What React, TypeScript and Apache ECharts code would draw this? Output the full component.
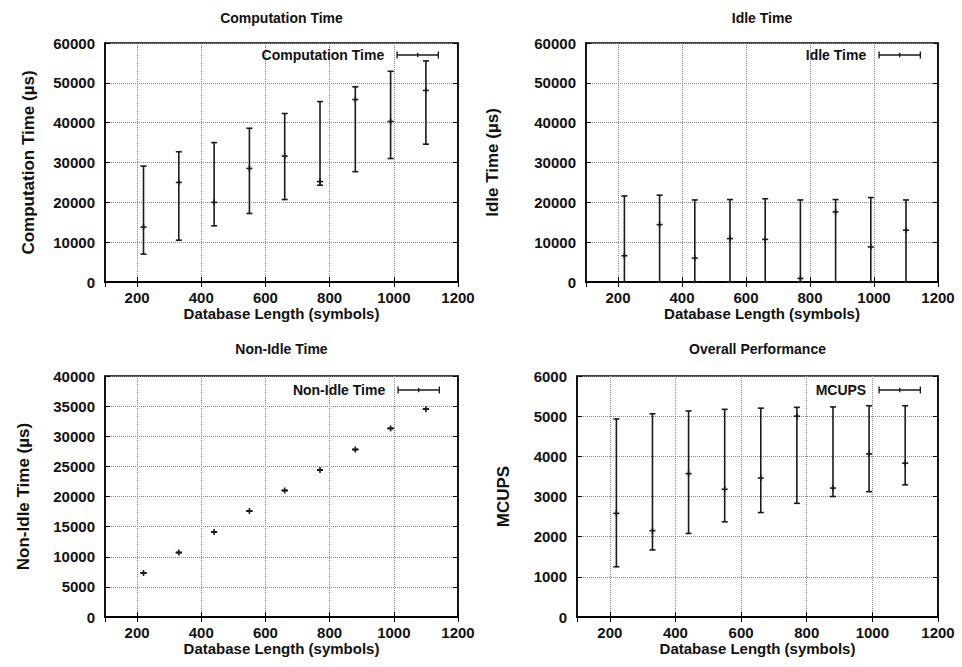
import React, { useEffect, useRef } from "react";
import * as echarts from "echarts";

const lengths = [220, 330, 440, 550, 660, 770, 880, 990, 1100];

const compLow = [7000, 10500, 14100, 17200, 20700, 24300, 27700, 31000, 34600];
const compMid = [13800, 25000, 20000, 28500, 31600, 25200, 45800, 40300, 48100];
const compHigh = [29100, 32700, 35000, 38600, 42300, 45300, 49000, 52900, 55500];

const idleLow = [0, 0, 0, 0, 0, 0, 0, 0, 0];
const idleMid = [6600, 14400, 6000, 10900, 10700, 900, 17600, 8800, 13000];
const idleHigh = [21600, 21800, 20600, 20700, 20900, 20600, 20700, 21200, 20600];

const nonIdleMid = [7300, 10700, 14100, 17600, 21000, 24400, 27800, 31300, 34500];

const mcupsLow = [1250, 1670, 2080, 2370, 2600, 2830, 3000, 3120, 3290];
const mcupsMid = [2580, 2150, 3570, 3180, 3460, 5000, 3210, 4060, 3830];
const mcupsHigh = [4930, 5060, 5130, 5170, 5200, 5220, 5230, 5260, 5260];

const xTickMin = 100;
const xTickMax = 1200;

const FONT = "Liberation Sans, Arial, Helvetica, sans-serif";
const INK = "#111";
const ICON = "path://M0,3h45v1.4h-45z M0,0h1.4v7.4h-1.4z M43.6,0h1.4v7.4h-1.4z M21.8,1.2h1.4v5h-1.4z";

const panels = [
  { title: "Computation Time", yName: "Computation Time (µs)", series: "Computation Time", low: compLow, mid: compMid, high: compHigh, yMax: 60000, yInt: 10000, grid: { left: 105, top: 43, width: 353, height: 239 }, nameGap: 68, legendRight: 523, legendTop: 48 },
  { title: "Idle Time", yName: "Idle Time (µs)", series: "Idle Time", low: idleLow, mid: idleMid, high: idleHigh, yMax: 60000, yInt: 10000, grid: { left: 586, top: 43, width: 352, height: 239 }, nameGap: 85, legendRight: 41, legendTop: 48 },
  { title: "Non-Idle Time", yName: "Non-Idle Time (µs)", series: "Non-Idle Time", low: nonIdleMid, mid: nonIdleMid, high: nonIdleMid, yMax: 40000, yInt: 5000, grid: { left: 105, top: 376, width: 353, height: 241 }, nameGap: 73, legendRight: 522, legendTop: 383 },
  { title: "Overall Performance", yName: "MCUPS", series: "MCUPS", low: mcupsLow, mid: mcupsMid, high: mcupsHigh, yMax: 6000, yInt: 1000, grid: { left: 577, top: 376, width: 361, height: 241 }, nameGap: 65, legendRight: 41, legendTop: 383 },
];

function renderErrorBar(params: any, api: any) {
  const x = api.value(0);
  const lo = api.value(1);
  const mid = api.value(2);
  const hi = api.value(3);
  const pLo = api.coord([x, lo]);
  const pHi = api.coord([x, hi]);
  const pMid = api.coord([x, mid]);
  const c = 3;
  const style = { stroke: "#1a1a1a", lineWidth: 1.6 };
  const ln = (x1: number, y1: number, x2: number, y2: number) => ({ type: "line", shape: { x1, y1, x2, y2 }, style });
  return {
    type: "group",
    children: [
      ln(pLo[0], pLo[1], pHi[0], pHi[1]),
      ln(pLo[0] - c, pLo[1], pLo[0] + c, pLo[1]),
      ln(pHi[0] - c, pHi[1], pHi[0] + c, pHi[1]),
      ln(pMid[0] - c, pMid[1], pMid[0] + c, pMid[1]),
      ln(pMid[0], pMid[1] - c, pMid[0], pMid[1] + c),
    ],
  };
}

const plain = (v: number) => String(v);

export default function App() {
  const ref = useRef<HTMLDivElement>(null);
  useEffect(() => {
    if (!ref.current) return;
    const chart = echarts.init(ref.current, null, { renderer: "svg" });
    const tickStyle = { fontFamily: FONT, fontSize: 15, fontWeight: "bold" as const, color: INK };
    const grids = panels.map((p) => ({ ...p.grid, show: true, borderColor: "#000", borderWidth: 1.5, backgroundColor: "transparent" }));
    const xAxes: any[] = [];
    const yAxes: any[] = [];
    panels.forEach((p, i) => {
      xAxes.push({
        type: "value", gridIndex: i, min: xTickMin, max: xTickMax, splitNumber: 5, position: "bottom",
        name: "Database Length (symbols)", nameLocation: "middle", nameGap: 24,
        nameTextStyle: { ...tickStyle },
        axisLine: { show: true, lineStyle: { color: "#000", width: 1.5 } },
        axisTick: { show: true, inside: true, length: 5, lineStyle: { color: "#000" } },
        axisLabel: { ...tickStyle, margin: 8, showMinLabel: false, formatter: plain },
        splitLine: { show: true, lineStyle: { type: "dotted", color: "#888", width: 1 } },
      });
      yAxes.push({
        type: "value", gridIndex: i, min: 0, max: p.yMax, interval: p.yInt, position: "left",
        name: p.yName, nameLocation: "middle", nameGap: p.nameGap, nameRotate: 90,
        nameTextStyle: { ...tickStyle, fontSize: 17 },
        axisLine: { show: true, lineStyle: { color: "#000", width: 1.5 } },
        axisTick: { show: true, inside: true, length: 5, lineStyle: { color: "#000" } },
        axisLabel: { ...tickStyle, margin: 10, formatter: plain },
        splitLine: { show: true, lineStyle: { type: "dotted", color: "#888", width: 1 } },
      });
    });
    panels.forEach((p, i) => {
      xAxes.push({
        type: "value", gridIndex: i, min: xTickMin, max: xTickMax, splitNumber: 5, position: "top",
        axisLine: { show: true, lineStyle: { color: "#000", width: 1.5 } },
        axisTick: { show: true, inside: true, length: 5, lineStyle: { color: "#000" } },
        axisLabel: { show: false }, splitLine: { show: false },
      });
      yAxes.push({
        type: "value", gridIndex: i, min: 0, max: p.yMax, interval: p.yInt, position: "right",
        axisLine: { show: true, lineStyle: { color: "#000", width: 1.5 } },
        axisTick: { show: true, inside: true, length: 5, lineStyle: { color: "#000" } },
        axisLabel: { show: false }, splitLine: { show: false },
      });
    });
    const series = panels.map((p, i) => ({
      type: "custom", name: p.series, xAxisIndex: i, yAxisIndex: i, color: "#1a1a1a",
      renderItem: renderErrorBar,
      encode: { x: 0, y: [1, 2, 3] },
      data: lengths.map((x, k) => [x, p.low[k], p.mid[k], p.high[k]]),
    }));
    const legends = panels.map((p) => ({
      data: [{ name: p.series, icon: ICON }],
      right: p.legendRight, top: p.legendTop, padding: 0, itemWidth: 45, itemHeight: 7,
      align: "right", selectedMode: false,
      textStyle: { fontFamily: FONT, fontSize: 14, fontWeight: "bold", color: INK, padding: [0, 6, 0, 0] },
    }));
    const titlePos = [[281.5, 18], [762, 18], [281.5, 349], [757.5, 349]];
    const graphic = panels.map((p, i) => ({
      type: "text", x: titlePos[i][0], y: titlePos[i][1], silent: true,
      style: { text: p.title, align: "center", verticalAlign: "middle", fill: INK, font: `bold 14px ${FONT}` },
    }));
    chart.setOption({
      animation: false,
      backgroundColor: "#fff",
      grid: grids,
      xAxis: xAxes,
      yAxis: yAxes,
      series,
      legend: legends,
      graphic,
    });
    return () => chart.dispose();
  }, []);
  return <div ref={ref} style={{ position: "absolute", left: 0, top: 0, width: 962, height: 667 }} />;
}
